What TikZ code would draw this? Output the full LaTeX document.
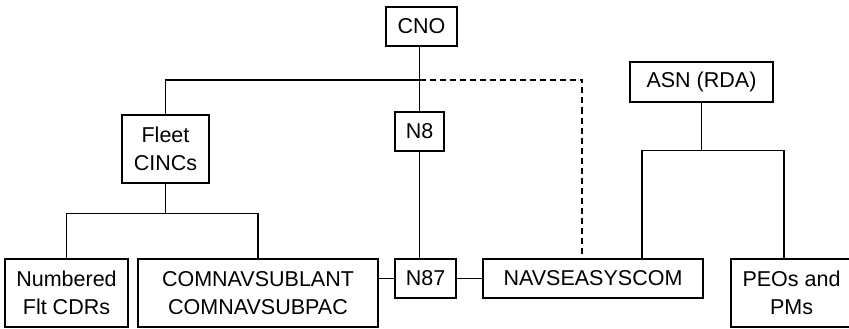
\documentclass[tikz,border=0pt]{standalone}
\usepackage{fontspec}
\setmainfont{Liberation Sans}

\begin{document}
\begin{tikzpicture}[x=1pt, y=-1pt, line width=1.2pt,
    orgbox/.style={draw, line width=1.2pt, inner sep=2pt, align=center,
        font=\fontsize{21.5}{28.5}\selectfont}]
        \useasboundingbox (0,0) rectangle (849,329);

        % Top level
        \node[orgbox, minimum width=71pt, minimum height=39pt] (cno) at (421.5, 26.5) {CNO};
        \node[orgbox, minimum width=143pt, minimum height=40pt] (asn) at (701.5, 82) {ASN (RDA)};

        % Middle level
        \node[orgbox, minimum width=87pt, minimum height=68pt] (fleet) at (165.5, 149) {Fleet \\ CINCs};
        \node[orgbox, minimum width=49pt, minimum height=39pt] (n8) at (419.5, 131.5) {N8};

        % Bottom row
        \node[orgbox, minimum width=123pt, minimum height=68pt] (flt) at (66.5, 293) {Numbered \\ Flt CDRs};
        \node[orgbox, minimum width=240pt, minimum height=68pt] (comnav) at (258, 293) {COMNAVSUBLANT \\ COMNAVSUBPAC};
        \node[orgbox, minimum width=61pt, minimum height=39pt] (n87) at (425.5, 278.5) {N87};
        \node[orgbox, minimum width=220pt, minimum height=39pt] (navsea) at (593, 278.5) {NAVSEASYSCOM};
        \node[orgbox, minimum width=121pt, minimum height=68pt] (peos) at (791.5, 293) {PEOs and \\ PMs};

        % Junctions
        \coordinate (bus) at (419.5, 80);
        \coordinate (dashtop) at (582, 259);
        \coordinate (seatop) at (642, 259);
        \coordinate (peotop) at (784, 259);

        % Connections
        \draw (cno.south -| n8) -- (n8);
        \draw (fleet.north) |- (bus);
        \draw[dash pattern=on 6pt off 4pt] (bus) -| (dashtop);
        \draw (n8) -- (n8 |- n87.north);

        \draw (fleet.south) -- ++(0, 30) coordinate (fltbar);
        \draw (flt.north) |- (fltbar) -| (comnav.north);

        \draw (n87.west -| comnav.east) -- (n87.west);
        \draw (n87.east) -- (navsea.west);

        \draw (asn.south) -- ++(0, 48) coordinate (asnbar);
        \draw (seatop) |- (asnbar) -| (peotop);
    \end{tikzpicture}
\end{document}
